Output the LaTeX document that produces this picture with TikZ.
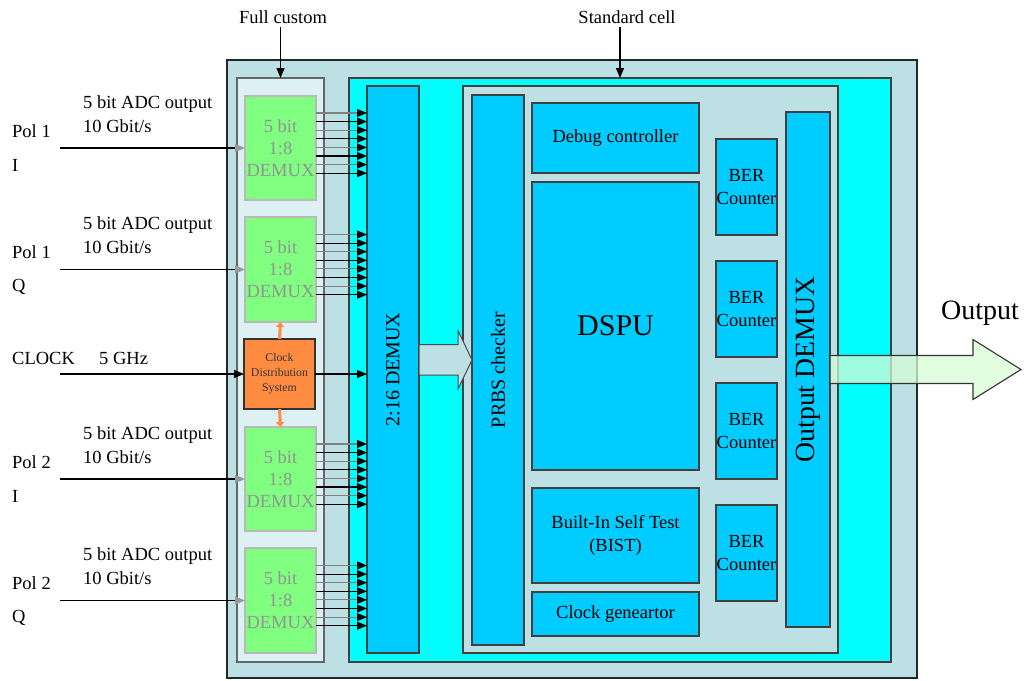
\documentclass[tikz,border=0pt]{standalone}
\usepackage{fontspec}
\setmainfont{Liberation Serif}
\usepackage{xcolor}
\definecolor{chipgray}{RGB}{188,224,227}
\definecolor{fcpale}{RGB}{221,240,243}
\definecolor{stdcyan}{RGB}{0,255,255}
\definecolor{barblue}{RGB}{0,204,255}
\definecolor{dmxgreen}{RGB}{128,255,128}
\definecolor{clkorange}{RGB}{255,140,64}
\definecolor{outgreen}{RGB}{214,252,214}
\usepackage{tikz}
\usetikzlibrary{arrows.meta, calc}
\tikzset{
  sz/.style 2 args={minimum width=#1pt, minimum height=#2pt},
  blk/.style={draw=black!75, line width=1.1pt, fill=barblue, inner sep=0pt, outer sep=0pt, align=center},
  gbox/.style={blk, draw=gray!55, line width=1.3pt, fill=dmxgreen, text=gray!85},
  txt/.style={inner sep=0pt, anchor=west},
  fan/.style={line width=1.1pt, -{Triangle[length=10pt, width=8pt, color=black]}},
  inarr/.style={line width=1.3pt, -{Triangle[length=10pt, width=8pt, color=gray!80]}},
  orng/.style={clkorange, line width=3pt, -{Triangle[length=5pt, width=8pt]}},
  lblarr/.style={line width=1.2pt, -{Triangle[length=10pt, width=8pt]}}
}

\begin{document}
\begin{tikzpicture}[x=1pt, y=-1pt, every node/.style={font=\fontsize{18.5}{22}\selectfont}]
  \useasboundingbox (0,0) rectangle (1027,680);

  % Chip outline and the two design regions
  \node[blk, fill=chipgray, draw=black!85, line width=1.5pt, sz={690}{618}] (chip) at (572,369) {};
  \node[blk, fill=fcpale, draw=black!60, sz={87}{584}] (fc) at (280.5,370) {};
  \node[blk, fill=stdcyan, sz={542}{584}] (std) at (620,370) {};

  % Region labels
  \node (fclbl) at (283,17) {Full custom};
  \node (stdlbl) at (627,17) {Standard cell};
  \draw[lblarr] (fclbl.south -| fc.north) -- (fc.north);
  \draw[lblarr] (stdlbl.south -| std.north) -- (std.north);

  % Full custom: input demuxes and clock distribution
  \node[gbox, sz={71}{104}] (g1) at (280.5,148) {5 bit\\1:8\\DEMUX};
  \node[gbox, sz={71}{105}] (g2) at (280.5,269.5) {5 bit\\1:8\\DEMUX};
  \node[blk, fill=clkorange, draw=black!80, sz={71}{70}, font=\fontsize{11.8}{15}\selectfont, text=black!80] (clk) at (279.5,374) {Clock\\Distribution\\System};
  \node[gbox, sz={71}{104}] (g3) at (280.5,479) {5 bit\\1:8\\DEMUX};
  \node[gbox, sz={71}{105}] (g4) at (280.5,600.5) {5 bit\\1:8\\DEMUX};
  \draw[orng] (clk.north) -- (g2.south);
  \draw[orng] (clk.south) -- (g3.north);

  % Standard cell blocks
  \node[blk, sz={52}{567}, font=\fontsize{20}{22}\selectfont] (demux16) at (393,369.5) {\rotatebox{90}{2:16 DEMUX}};
  \node[blk, fill=chipgray, sz={375}{567}] (core) at (650.5,369.5) {};
  \node[blk, sz={52}{550}, font=\fontsize{20}{22}\selectfont] (prbs) at (498,370) {\rotatebox{90}{PRBS checker}};
  \node[blk, sz={167}{70}] (debug) at (615.5,138) {Debug controller};
  \node[blk, sz={167}{288}, font=\fontsize{30}{32}\selectfont] (dspu) at (615.5,326) {DSPU};
  \node[blk, sz={167}{95}, font=\fontsize{18.5}{23}\selectfont] (bist) at (615.5,535.5) {Built-In Self Test\\(BIST)};
  \node[blk, sz={167}{44}] (clkgen) at (615.5,614) {Clock geneartor};
  \node[blk, sz={61}{96}, font=\fontsize{18.5}{23}\selectfont] (ber1) at (746.5,187) {BER\\Counter};
  \node[blk, sz={61}{96}, font=\fontsize{18.5}{23}\selectfont] (ber2) at (746.5,309) {BER\\Counter};
  \node[blk, sz={61}{96}, font=\fontsize{18.5}{23}\selectfont] (ber3) at (746.5,431) {BER\\Counter};
  \node[blk, sz={61}{96}, font=\fontsize{18.5}{23}\selectfont] (ber4) at (746.5,553) {BER\\Counter};
  \node[blk, sz={44}{515}, font=\fontsize{27.8}{30}\selectfont] (outdemux) at (808,369.5) {\rotatebox{90}{Output DEMUX}};

  % Inputs
  \node[txt] (adc1) at (83,104) {5 bit ADC output};
  \node[txt] (rate1) at (83,126) {10 Gbit/s};
  \node[txt] (pol1i) at (12,131) {Pol 1};
  \node[txt] (ch1i) at (12,165) {I};
  \coordinate (in1) at (60,148);
  \draw[inarr] (in1) -- (g1.west);

  \node[txt] (adc2) at (83,225.5) {5 bit ADC output};
  \node[txt] (rate2) at (83,247.5) {10 Gbit/s};
  \node[txt] (pol1q) at (12,252.5) {Pol 1};
  \node[txt] (ch1q) at (12,286.5) {Q};
  \coordinate (in2) at (60,269.5);
  \draw[inarr] (in2) -- (g2.west);

  \node[txt] (clkin) at (12,358) {CLOCK};
  \node[txt] (freq) at (99,358) {5 GHz};
  \coordinate (in0) at (60,374);
  \draw[fan] (in0) -- (clk.west);

  \node[txt] (adc3) at (83,435) {5 bit ADC output};
  \node[txt] (rate3) at (83,457) {10 Gbit/s};
  \node[txt] (pol2i) at (12,462) {Pol 2};
  \node[txt] (ch2i) at (12,496) {I};
  \coordinate (in3) at (60,479);
  \draw[inarr] (in3) -- (g3.west);

  \node[txt] (adc4) at (83,556.5) {5 bit ADC output};
  \node[txt] (rate4) at (83,578.5) {10 Gbit/s};
  \node[txt] (pol2q) at (12,583.5) {Pol 2};
  \node[txt] (ch2q) at (12,617.5) {Q};
  \coordinate (in4) at (60,600.5);
  \draw[inarr] (in4) -- (g4.west);

  % 8-bit fans into the 2:16 DEMUX
  \foreach \g in {g1,g2,g3,g4}{
    \foreach \i in {0,...,7}{
      \ifodd\i \def\fancol{black}\else\def\fancol{black!50}\fi
      \draw[fan, draw=\fancol] ([yshift={(35-8.6*\i)*1pt}]\g.east) coordinate (f) -- (f -| demux16.west);
    }
  }
  \draw[fan] (clk.east) -- (clk.east -| demux16.west);

  % Wide data path into the checker
  \draw[fill=chipgray, draw=black!70, line width=1pt]
    ([yshift=25pt]demux16.east) -- ++(39,0) -- ++(0,-14) -- ([yshift=10pt]prbs.west)
    -- ++(-14,29) -- ++(0,-14) -- ++(-39,0) -- cycle;

  % Output
  \draw[fill=outgreen, fill opacity=0.75, draw=black!80, line width=1.1pt]
    ([yshift=14pt]outdemux.east) -- ++(143,0) -- ++(0,-16) -- ++(48,30)
    -- ++(-48,30) -- ++(0,-16) -- ++(-143,0) -- cycle;
  \node[font=\fontsize{28}{30}\selectfont] (outlbl) at (980,313) {Output};
\end{tikzpicture}
\end{document}
